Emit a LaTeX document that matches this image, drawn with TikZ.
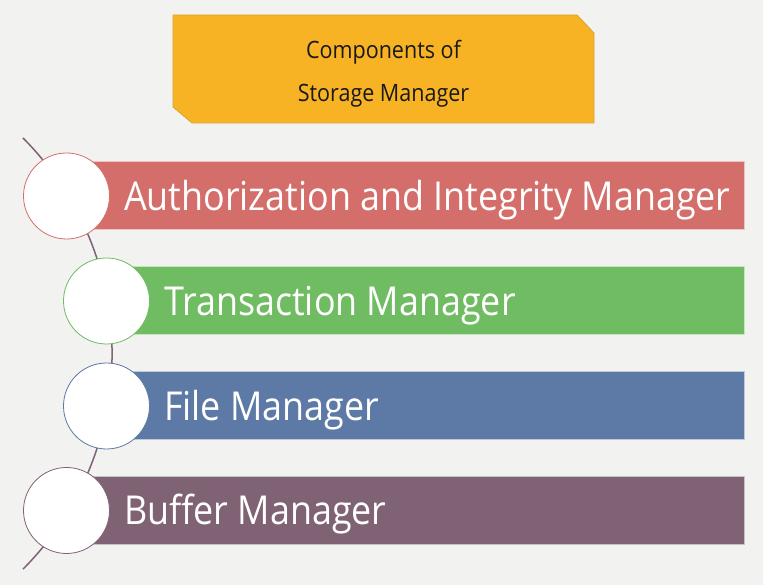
\documentclass[tikz,border=0pt]{standalone}
\usepackage{fontspec}
\setmainfont{Open Sans}[FakeStretch=0.9]
\definecolor{pagebg}{HTML}{F2F2F1}
\definecolor{titlefill}{HTML}{F7B324}
\definecolor{titleline}{HTML}{D9A230}
\definecolor{authred}{HTML}{D46E6A}
\definecolor{transgreen}{HTML}{70BC62}
\definecolor{fileblue}{HTML}{5D79A5}
\definecolor{bufpurple}{HTML}{806275}
\tikzset{
  titleshape/.style={fill=titlefill, draw=titleline, line width=0.8bp},
  titletext/.style={align=center, inner sep=0pt, text=black!90,
    font=\fontsize{24}{43}\selectfont},
  bar/.style={draw=#1!40!white, fill=#1, line width=1bp,
    minimum height=68bp, anchor=west, inner sep=0pt},
  outerbar/.style={bar=#1, minimum width=677.5bp},
  innerbar/.style={bar=#1, minimum width=637.5bp},
  bartext/.style={anchor=base west, text=white, inner sep=0pt,
    font=\fontsize{40}{48}\selectfont},
  dot/.style={circle, draw=#1, fill=white, line width=0.8bp, minimum size=86bp,
    inner sep=0pt},
  spine/.style={draw=bufpurple, line width=1.5bp}
}
\begin{document}
\begin{tikzpicture}[x=1bp,y=1bp]
      \fill[pagebg] (0,0) rectangle (763,585);
      \useasboundingbox (0,0) rectangle (763,585);
      \path[titleshape] (173,570) -- (577,570) -- (594,552) -- (594,462)
        -- (192,462) -- (173,478) -- cycle;
      \node[titletext] (title) at (383.5,516) {\rule{0pt}{27bp}Components of\\Storage Manager};
      \coordinate (arctop) at (23,447);
      \draw[spine] (arctop) arc[start angle=44.9, end angle=-44.9, radius=305.4bp];
      \draw
        (66.5,389) coordinate (c1)
        (106.5,284) coordinate (c2)
        (106.5,179) coordinate (c3)
        (66.5,74.5) coordinate (c4);
      \node[outerbar=authred] (authbar) at (c1) {};
      \node[innerbar=transgreen] (transbar) at (c2) {};
      \node[innerbar=fileblue] (filebar) at (c3) {};
      \node[outerbar=bufpurple] (bufbar) at (c4) {};
      \node[dot=authred] (auth) at (c1) {};
      \node[dot=transgreen] (trans) at (c2) {};
      \node[dot=fileblue] (file) at (c3) {};
      \node[dot=bufpurple] (buf) at (c4) {};
      \begin{scope}[bartext]
        \node (authtext) at ([shift={(57.5,-14.5)}]auth.center) {Authorization and Integrity Manager};
        \node (transtext) at ([shift={(57.5,-14.5)}]trans.center) {Transaction Manager};
        \node (filetext) at ([shift={(57.5,-14.5)}]file.center) {File Manager};
        \node (buftext) at ([shift={(57.5,-14.5)}]buf.center) {Buffer Manager};
      \end{scope}
    \end{tikzpicture}
\end{document}
